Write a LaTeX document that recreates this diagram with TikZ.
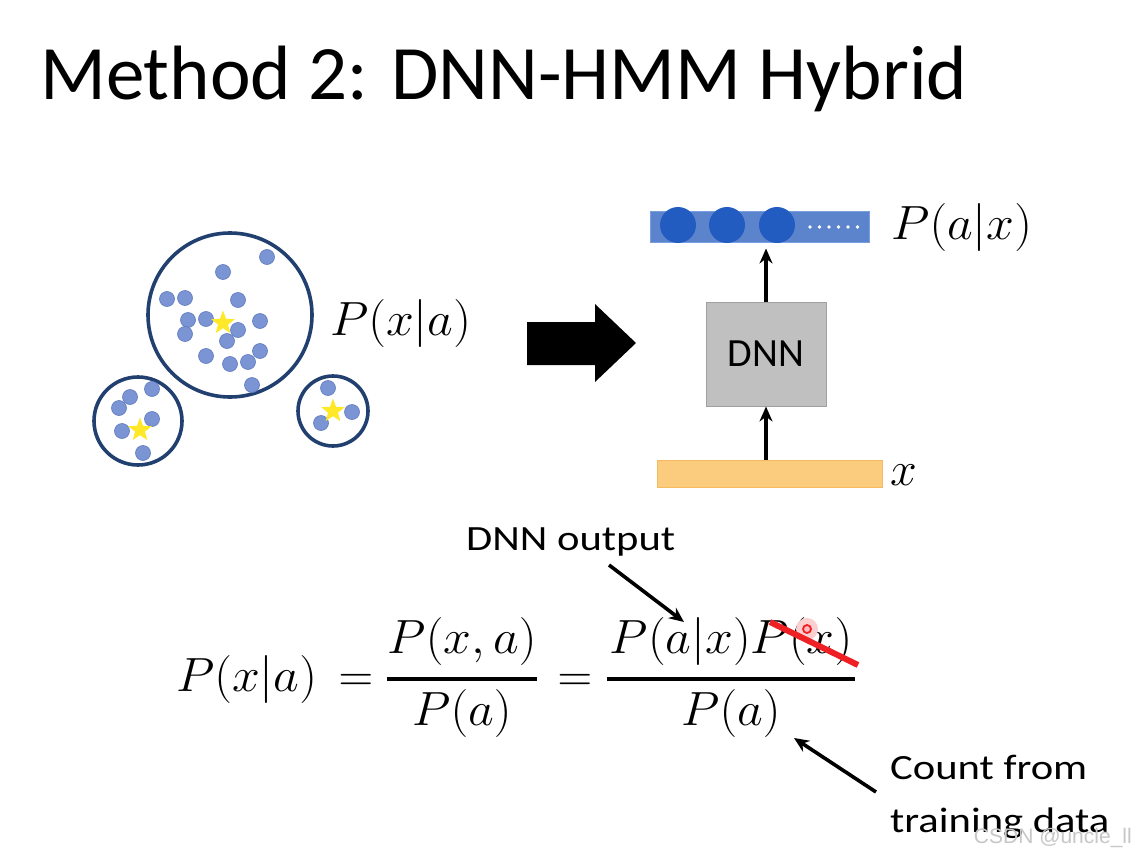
\RequirePackage{fix-cm}
\documentclass[tikz,border=0pt]{standalone}
\usepackage{fontspec}
\setmainfont{Carlito}
\newfontfamily\wmfont{Liberation Sans}
\usetikzlibrary{arrows.meta,shapes.geometric}
\definecolor{dotblue}{RGB}{122,148,212}
\definecolor{dotedge}{RGB}{95,122,190}
\definecolor{ringblue}{RGB}{33,64,112}
\definecolor{starye}{RGB}{255,232,40}
\definecolor{barblue}{RGB}{92,132,205}
\definecolor{baredge}{RGB}{120,160,225}
\definecolor{neuron}{RGB}{34,92,192}
\definecolor{inorange}{RGB}{251,204,125}
\definecolor{inedge}{RGB}{246,186,96}
\definecolor{dnngray}{RGB}{192,192,192}
\definecolor{dnnedge}{RGB}{160,160,160}
\definecolor{strike}{RGB}{238,32,36}
\tikzset{
  ring/.style={draw=ringblue, line width=3.6pt},
  dotc/.style={fill=dotblue, draw=dotedge, line width=0.6pt},
  starc/.style={star, star points=5, star point ratio=2.4, fill=starye, draw=none, minimum size=25pt, inner sep=0pt},
  con/.style={-{Stealth[length=15pt,width=13pt]}, line width=3.6pt, black},
  lbl/.style={font=\fontsize{35.5}{40}\selectfont, inner sep=0pt},
  mlbl/.style={font=\fontsize{48}{54}\selectfont, inner sep=0pt},
  fbar/.style={line width=3.2pt, black},
}
\newcommand{\wide}[1]{\scalebox{1.2}[1]{#1}}
\newcommand{\mwide}[1]{\scalebox{1.04}[1]{#1}}
\begin{document}
\begin{tikzpicture}[x=1pt,y=-1pt]
\useasboundingbox (0,0) rectangle (1135,856);
\fill[white] (0,0) rectangle (1135,856);

% title
\node[anchor=base west, inner sep=0pt, font=\fontsize{77}{80}\selectfont] (title) at (40,100) {Method 2: DNN-HMM Hybrid};

% clusters
\draw[ring] (230,315) circle (82);
\draw[ring] (138,421) circle (44);
\draw[ring] (333,411) circle (35);
\foreach \p in {(267,257),(223,272),(167,299),(185,298),(238,300),(188,320),(206,319),(260,321),(238,330),(185,334),(227,341),(260,351),(206,356),(230,364),(248,362),(252,385),
(152,389),(130,397),(119,408),(152,419),(122,431),(143,453),
(328,388),(352,412),(321,423)}
  \filldraw[dotc] \p circle (7.5);
\node[starc] (s1) at (223,323) {};
\node[starc] (s2) at (140,430) {};
\node[starc] (s3) at (333,411) {};

\node[mlbl, anchor=base west] (pxa) at (330,335) {\mwide{$P(x|a)$}};

% big arrow
\fill[black] (527,322) -- (595,322) -- (595,304) -- (636,343) -- (595,382) -- (595,365) -- (527,365) -- cycle;

% network
\node[draw=baredge, fill=barblue, line width=1pt, minimum width=219pt, minimum height=31pt, inner sep=0pt] (outbar) at (759.5,226.5) {};
\foreach \cx in {678,727,777}
  \fill[neuron] (\cx,225) circle (18);
\foreach \k in {0,...,5}
  \fill[white] (810+\k*9.5,227) circle (1.8);
\node[mlbl, anchor=base west] (pax) at (891,239) {\mwide{$P(a|x)$}};

\node[draw=dnnedge, fill=dnngray, line width=1pt, minimum width=120pt, minimum height=104pt, inner sep=0pt, font=\fontsize{40}{44}\selectfont] (dnn) at (766,354) {DNN};

\node[draw=inedge, fill=inorange, line width=1pt, minimum width=225pt, minimum height=27pt, inner sep=0pt] (inbar) at (769.5,473.5) {};
\node[mlbl, anchor=base west] (xl) at (890,485) {$x$};

\draw[con] (inbar.north -| dnn.south) -- (dnn.south);
\draw[con] (dnn.north) -- ([yshift=-6pt]outbar.south -| dnn.north);

% equation
\node[mlbl, anchor=base west] (eqL) at (176,691) {\mwide{$P(x|a)$}};
\node[mlbl, anchor=base] (eq1) at (356,691) {$=$};
\node[mlbl, anchor=base] (numA) at (462,653) {\mwide{$P(x,a)$}};
\draw[fbar] (387,679) -- (537,679);
\node[mlbl, anchor=base] (denA) at (462,725) {\mwide{$P(a)$}};
\node[mlbl, anchor=base] (eq2) at (575,691) {$=$};
\node[mlbl, anchor=base] (numB) at (731,653) {\mwide{$P(a|x)P(x)$}};
\draw[fbar] (607,679) -- (855,679);
\node[mlbl, anchor=base] (denB) at (731,725) {\mwide{$P(a)$}};

% strike-out
\fill[strike!22] (807,629) circle (11);
\draw[strike, line width=6pt] (770,622) -- (858,665);
\draw[strike, line width=1.8pt, fill=white!70!strike] (807,629) circle (4);

% annotations
\node[lbl, anchor=base west] (dnnout) at (466,550) {\wide{DNN output}};
\coordinate (tgtA) at (684,622);
\draw[con] (609,565) -- (tgtA);

\node[lbl, anchor=base west] (count1) at (890,779) {\wide{Count from}};
\node[lbl, anchor=base west] (count2) at (890,832) {\wide{training data}};
\coordinate (tgtB) at (794,738);
\draw[con] (876,792) -- (tgtB);

\node[anchor=base east, inner sep=0pt, text=black!22, font=\wmfont\fontsize{21}{24}\selectfont] (wm) at (1132,843) {CSDN @uncle\_ll};
\end{tikzpicture}
\end{document}
